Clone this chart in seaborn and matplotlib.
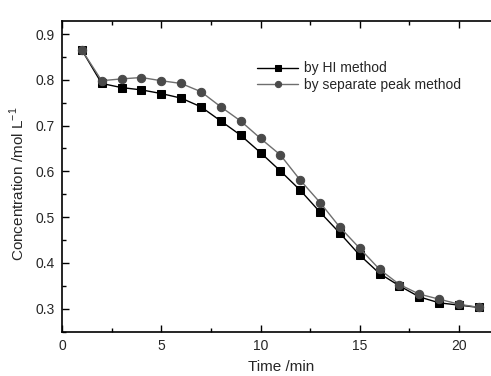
import numpy as np
import pandas as pd
import seaborn as sns
import matplotlib.pyplot as plt
from matplotlib.ticker import MultipleLocator

time_min = list(range(1, 22))
hi_method = [0.865, 0.792, 0.783, 0.778, 0.770, 0.760, 0.741, 0.710, 0.679, 0.641,
             0.601, 0.559, 0.511, 0.465, 0.417, 0.377, 0.350, 0.326, 0.313, 0.308, 0.303]
peak_method = [0.865, 0.798, 0.802, 0.805, 0.798, 0.792, 0.774, 0.741, 0.710, 0.672,
               0.636, 0.581, 0.532, 0.478, 0.432, 0.386, 0.353, 0.332, 0.321, 0.310, 0.303]
labels = ["by HI method", "by separate peak method"]

df = pd.DataFrame({
    "time": time_min * 2,
    "conc": hi_method + peak_method,
    "method": [labels[0]] * len(time_min) + [labels[1]] * len(time_min),
})

sns.set_style("ticks")
plt.rcParams["font.family"] = ["Liberation Sans", "DejaVu Sans"]

fig = plt.figure(figsize=(4.91, 3.76), dpi=100)
ax = fig.add_axes([62 / 491, 1 - 332 / 376, (496 - 62) / 491, (332 - 21) / 376])

sns.lineplot(data=df, x="time", y="conc", hue="method", style="method",
             markers=["s", "o"], dashes=False, markersize=5.6,
             palette=["#000000", "#6e6e6e"], linewidth=1.0, ax=ax, legend=False)
# marker colours
ax.lines[0].set_markerfacecolor("#000000")
ax.lines[0].set_markeredgecolor("#000000")
ax.lines[1].set_markerfacecolor("#4a4a4a")
ax.lines[1].set_markeredgecolor("#4a4a4a")
ax.lines[1].set_markersize(6.0)
ax.lines[0].set_zorder(2)
ax.lines[1].set_zorder(3)

ax.set_xlim(0, (496 - 62) / 19.85)
ax.set_ylim(0.2493, 0.9284)
ax.xaxis.set_major_locator(MultipleLocator(5))
ax.xaxis.set_minor_locator(MultipleLocator(2.5))
ax.yaxis.set_major_locator(MultipleLocator(0.1))
ax.yaxis.set_minor_locator(MultipleLocator(0.05))
ax.tick_params(which="both", direction="in", top=True, right=False, width=1.0,
               labelsize=10, color="#000000", pad=5)
ax.tick_params(which="major", length=5)
ax.tick_params(which="minor", length=3)
ax.set_xticks([0, 5, 10, 15, 20])
ax.set_xticklabels(["0", "5", "10", "15", "20"])
ax.set_yticklabels([f"{v:.1f}" for v in ax.get_yticks()])
for side in ["left", "bottom", "top"]:
    ax.spines[side].set_linewidth(1.2)
    ax.spines[side].set_color("#000000")
ax.spines["right"].set_visible(False)

ax.set_xlabel("Time /min", fontsize=11)
ax.set_ylabel("Concentration /mol L$^{\\mathregular{-1}}$", fontsize=11)
ax.xaxis.set_label_coords((281 - 62) / 434, -(360 - 332) / 311)
ax.yaxis.set_label_coords(-(62 - 27) / 434, (332 - 184) / 311)

handles = [ax.lines[0], ax.lines[1]]
ax.legend(handles, labels, loc="upper left", bbox_to_anchor=(0.42, 0.91),
          frameon=False, fontsize=10, handlelength=3.0, handletextpad=0.4,
          labelspacing=0.15, markerscale=0.75)

fig.savefig("out.png", dpi=100)
